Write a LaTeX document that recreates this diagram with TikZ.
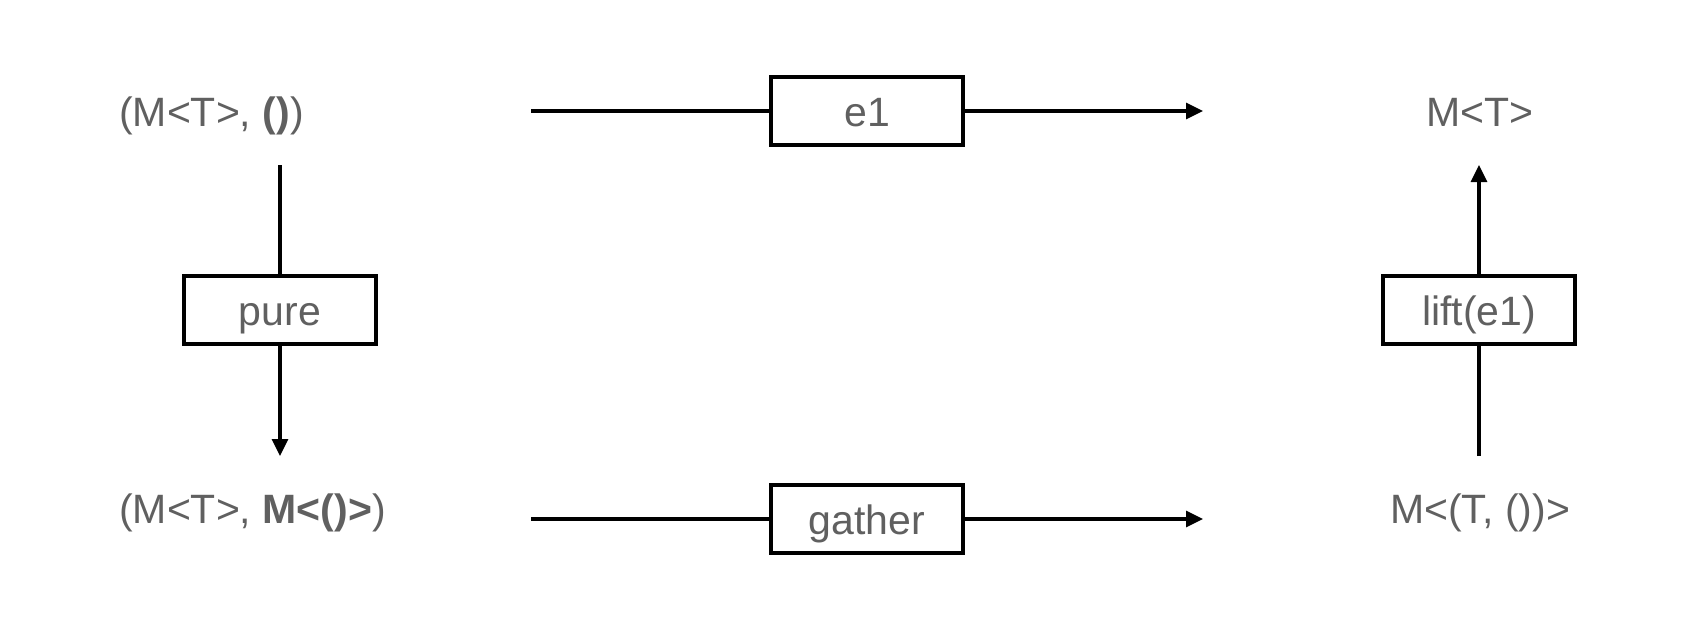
\documentclass[tikz,border=0pt]{standalone}
\usepackage{fontspec}
\setmainfont{Liberation Sans}
\usetikzlibrary{arrows.meta}
\definecolor{txtgray}{RGB}{96,96,96}
\tikzset{
  lbl/.style={text=txtgray, font=\fontsize{41}{48}\selectfont, inner sep=0pt, text height=30pt, text depth=0pt},
  opbox/.style={draw=black, line width=3.2pt, fill=white, minimum width=192pt, minimum height=68pt, text=txtgray, font=\fontsize{41}{48}\selectfont, inner sep=0pt, text height=31pt, text depth=0pt},
  conn/.style={line width=3.2pt, draw=black},
  arr/.style={conn, -{Triangle[length=17pt, width=16pt]}}
}
\begin{document}
\begin{tikzpicture}[x=1pt,y=1pt]
\useasboundingbox (0,0) rectangle (1700,-623);
% state labels
\node[lbl, anchor=west] (tl) at (119,-112) {(M<T>, \textbf{()})};
\node[lbl, anchor=west] (bl) at (119,-508) {(M<T>, \textbf{M<()>})};
\node[lbl] (tr) at (1480,-112) {M<T>};
\node[lbl] (br) at (1480,-508) {M<(T, ())>};
% operation boxes
\node[opbox] (e1) at (867,-111) {e1};
\node[opbox] (gather) at (867,-519) {gather};
\node[opbox] (pure) at (280,-310) {pure};
\node[opbox] (lift) at (1479,-310) {lift(e1)};
% free ends
\coordinate (s1) at (531,-111);
\coordinate (t1) at (1203,-111);
\coordinate (s2) at (531,-519);
\coordinate (t2) at (1203,-519);
\coordinate (s3) at (280,-165);
\coordinate (t3) at (280,-456);
\coordinate (s4) at (1479,-456);
\coordinate (t4) at (1479,-165);
% connectors
\draw[conn] (s1) -- (e1.west);
\draw[arr] (e1.east) -- (t1);
\draw[conn] (s2) -- (gather.west);
\draw[arr] (gather.east) -- (t2);
\draw[conn] (s3) -- (pure.north);
\draw[arr] (pure.south) -- (t3);
\draw[conn] (s4) -- (lift.south);
\draw[arr] (lift.north) -- (t4);
\end{tikzpicture}
\end{document}
